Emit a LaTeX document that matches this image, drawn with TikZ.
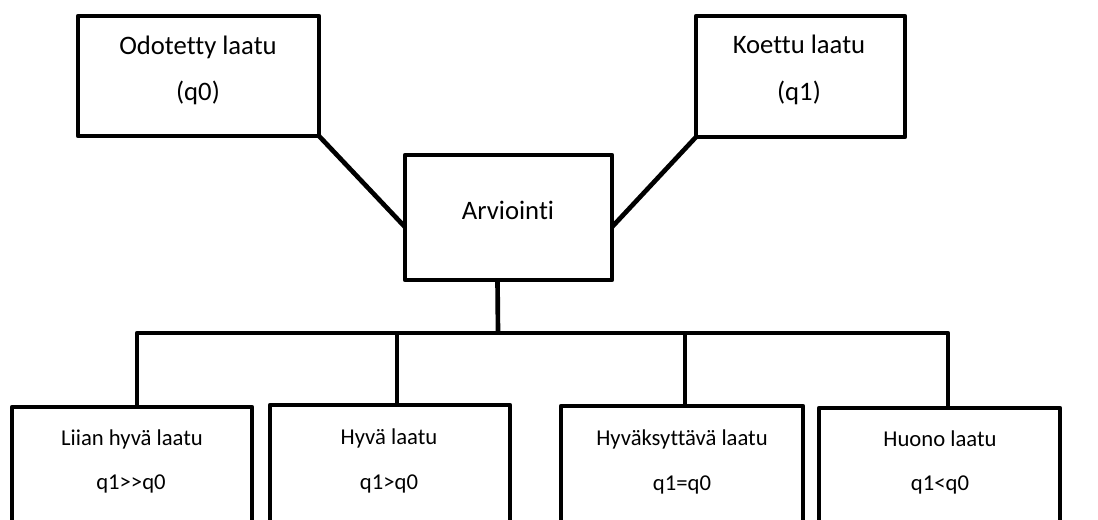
\documentclass[tikz,border=0pt]{standalone}
\usepackage{fontspec}
\setmainfont{Carlito}[Ligatures={NoCommon,TeXOff}]
\usetikzlibrary{calc}
\begin{document}
\begin{tikzpicture}[x=0.75pt,y=-0.75pt,
  line width=3.5pt, line join=round,
  box/.style={draw, rectangle, outer sep=0pt, inner sep=0pt, fill=white},
  txt/.style={anchor=base, inner sep=0pt, font=\fontsize{17}{20}\selectfont},
  bigtxt/.style={txt, font=\fontsize{20}{24}\selectfont},
  conn/.style={draw}]
\useasboundingbox (0,0) rectangle (1098,519);
\clip (0,0) rectangle (1098,519);

% top row
\node[box, minimum width=180.75pt, minimum height=90pt] (odo) at (198.5,76) {};
\node[box, minimum width=156.75pt, minimum height=90.75pt] (koe) at (800.5,76.5) {};
\node[box, minimum width=155.25pt, minimum height=93.75pt] (arv) at (508.5,217.5) {};

\node[bigtxt] (odoA) at (198,54) {Odotetty laatu};
\node[bigtxt] (odoB) at (198,100) {(q0)};
\node[bigtxt] (koeA) at (799,53.5) {Koettu laatu};
\node[bigtxt] (koeB) at (799,100) {(q1)};
\node[bigtxt] (arvA) at (508,219) {Arviointi};

% bottom row (boxes run past the lower edge)
\node[box, minimum width=180pt, minimum height=97.5pt] (b1) at (132,472) {};
\node[box, minimum width=180pt, minimum height=97.5pt] (b2) at (390,470) {};
\node[box, minimum width=181.5pt, minimum height=97.5pt] (b3) at (682,471) {};
\node[box, minimum width=180.75pt, minimum height=97.5pt] (b4) at (939.5,473) {};

\node[txt] (b1A) at (132,445) {Liian hyvä laatu};
\node[txt] (b1B) at (131,489) {q1>>q0};
\node[txt] (b2A) at (389,444) {Hyvä laatu};
\node[txt] (b2B) at (389,489) {q1>q0};
\node[txt] (b3A) at (682,445.5) {Hyväksyttävä laatu};
\node[txt] (b3B) at (682,490.5) {q1=q0};
\node[txt] (b4A) at (940,446.5) {Huono laatu};
\node[txt] (b4B) at (940,490.5) {q1<q0};

% connectors
\draw[conn] (odo.south east) -- ($(arv.west)+(0,9.5)$);
\draw[conn] (koe.south west) -- ($(arv.east)+(0,9.5)$);

\coordinate (hub) at ($(arv.south)+(-11,0)$);
\coordinate (bar) at (498,333);
\coordinate (t1) at ($(b1.north)+(5,0)$);
\coordinate (t2) at ($(b2.north)+(7,0)$);
\coordinate (t3) at ($(b3.north)+(3,0)$);
\coordinate (t4) at ($(b4.north)+(8.5,0)$);

\draw[conn] (hub) -- (bar);
\draw[conn] (t1) |- (bar) -| (t4);
\draw[conn] (t2) -- (t2 |- bar);
\draw[conn] (t3) -- (t3 |- bar);
\end{tikzpicture}
\end{document}
